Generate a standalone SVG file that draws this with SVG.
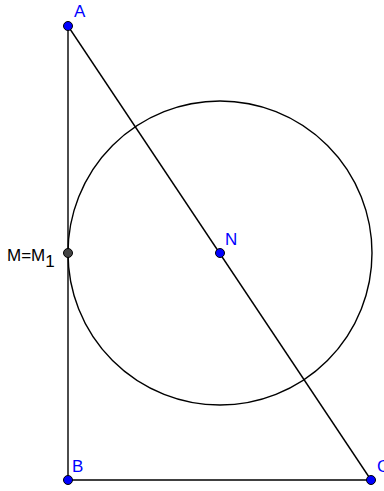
<svg xmlns="http://www.w3.org/2000/svg" width="384" height="491" viewBox="0 0 384 491">
<style>
.ln{stroke:#000;stroke-width:1.4;fill:none}
.pt{stroke:#000;stroke-width:1;fill:#0000ff}
.lb{font-family:"Liberation Sans",Arial,sans-serif;font-size:17px;fill:#0000ff}
.lk{font-family:"Liberation Sans",Arial,sans-serif;font-size:17px;fill:#000}
</style>
<rect width="384" height="491" fill="#fff"/>
<g id="connectors">
<line class="ln" x1="68" y1="26" x2="68" y2="480"/>
<line class="ln" x1="68" y1="480" x2="371" y2="480"/>
<line class="ln" x1="68" y1="26" x2="371" y2="480"/>
<circle class="ln" cx="220" cy="253" r="152"/>
</g>
<g id="A"><circle class="pt" cx="68" cy="26" r="4.5"/><text class="lb" x="74" y="17">A</text></g>
<g id="B"><circle class="pt" cx="68" cy="480" r="4.5"/><text class="lb" x="72" y="472">B</text></g>
<g id="C"><circle class="pt" cx="371" cy="480" r="4.5"/><text class="lb" x="377" y="472">C</text></g>
<g id="N"><circle class="pt" cx="220" cy="253" r="4.5"/><text class="lb" x="225" y="245">N</text></g>
<g id="M"><circle class="pt" cx="68" cy="253" r="4.5" style="fill:#444"/><text class="lk" x="7" y="261">M=M<tspan dy="6">1</tspan></text></g>
</svg>
